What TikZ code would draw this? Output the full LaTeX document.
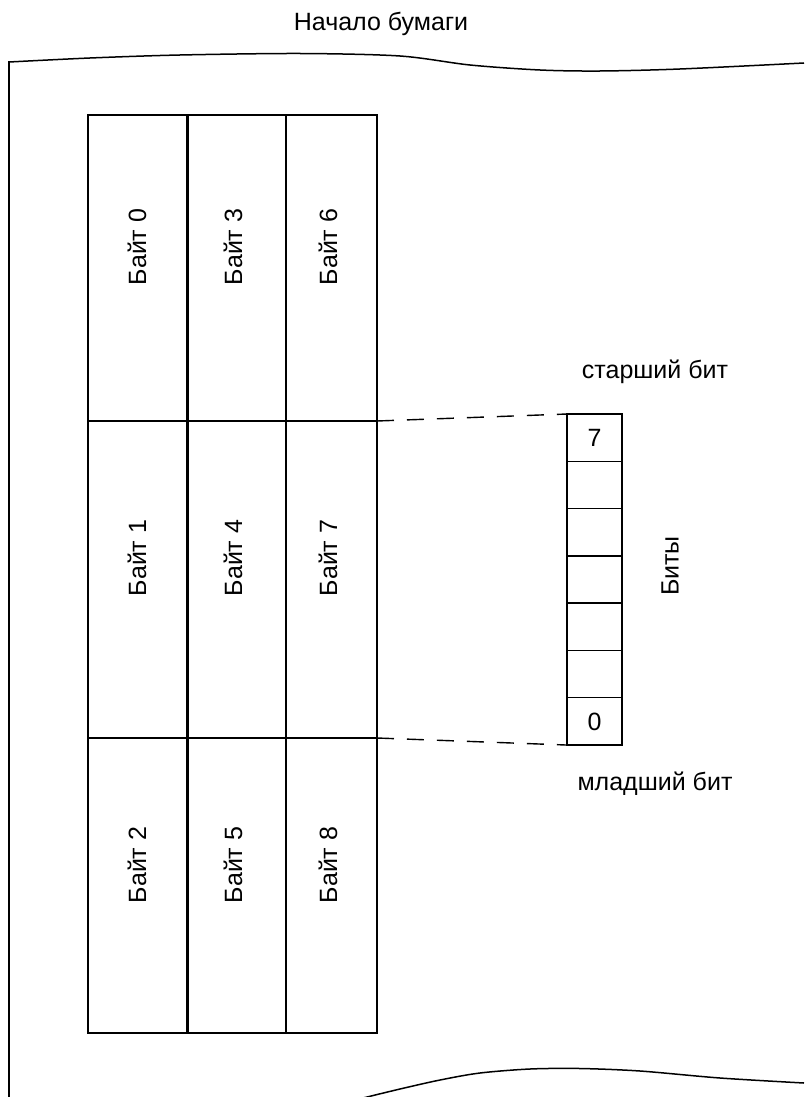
\documentclass[tikz,border=0pt]{standalone}
\usepackage{fontspec}
\setmainfont{Liberation Sans}
\begin{document}
\begin{tikzpicture}
[x=1pt,y=-1pt,%
  textFont/.style={font=\fontsize{25}{30}\selectfont,inner sep=0pt},%
  paperEdge/.style={line width=1.5pt},%
  byteCell/.style={draw,line width=1.4pt,inner sep=0pt,outer sep=0pt},%
  byteText/.style={textFont,rotate=90},%
  bitCell/.style={draw,line width=1.4pt,inner sep=0pt,outer sep=0pt,%
    minimum width=55pt,minimum height=47.29pt,textFont},%
  linkDash/.style={-,line width=1.4pt,dash pattern=on 17pt off 13pt},%
  thickDivider/.style={-,line width=3pt}]
\useasboundingbox (0,0) rectangle (804,1097);
%% edges of the sheet of paper
\draw[paperEdge] plot[smooth] coordinates {(9,62) (90,58) (180,55)
  (300,53.5) (400,56) (470,65) (540,70) (600,71) (680,69) (804,63)};
\draw[paperEdge] (9,61.3) -- (9,1097);
\draw[paperEdge] plot[smooth] coordinates {(363,1098) (400,1089)
  (440,1080) (480,1073) (530,1069) (580,1068.5) (640,1071) (720,1078)
  (804,1083)};
\node[textFont,anchor=base] (paperTop) at (381,31) {Начало бумаги};
%% byte cells: number/x/y/width/height/text x/text y
\foreach \n/\x/\y/\w/\h/\tx/\ty in {0/137.5/268/99/306/137/247,
  1/137.5/579.5/99/317/137/558, 2/137.5/885.5/99/295/137/865,
  3/236.5/268/99/306/233/247, 4/236.5/579.5/99/317/233/558,
  5/236.5/885.5/99/295/233/865, 6/331.5/268/91/306/328/247,
  7/331.5/579.5/91/317/328/558, 8/331.5/885.5/91/295/328/865}
{
  \node[byteCell,minimum width=\w pt,minimum height=\h pt] (cell\n)
    at (\x,\y) {};
  \node[byteText] (byte\n) at (\tx,\ty) {Байт \n};
}
\draw[thickDivider] (cell0.north east) -- (cell2.south east);
%% bits of one byte, row 1 at the top
\foreach \r/\lbl in {1/7,2/{},3/{},4/{},5/{},6/{},7/0}
{
  \node[bitCell] (bitRow\r) at (594.5,{390.36+\r*47.29}) {\lbl};
}
\draw[linkDash] (cell6.south east) -- (bitRow1.north west);
\draw[linkDash] (cell7.south east) -- (bitRow7.south west);
\node[textFont,anchor=base] (bitHigh) at (655,378) {старший бит};
\node[textFont,anchor=base] (bitLow) at (655,790) {младший бит};
\node[textFont,rotate=90] (bitsName) at (670,566) {Биты};
\end{tikzpicture}
\end{document}
